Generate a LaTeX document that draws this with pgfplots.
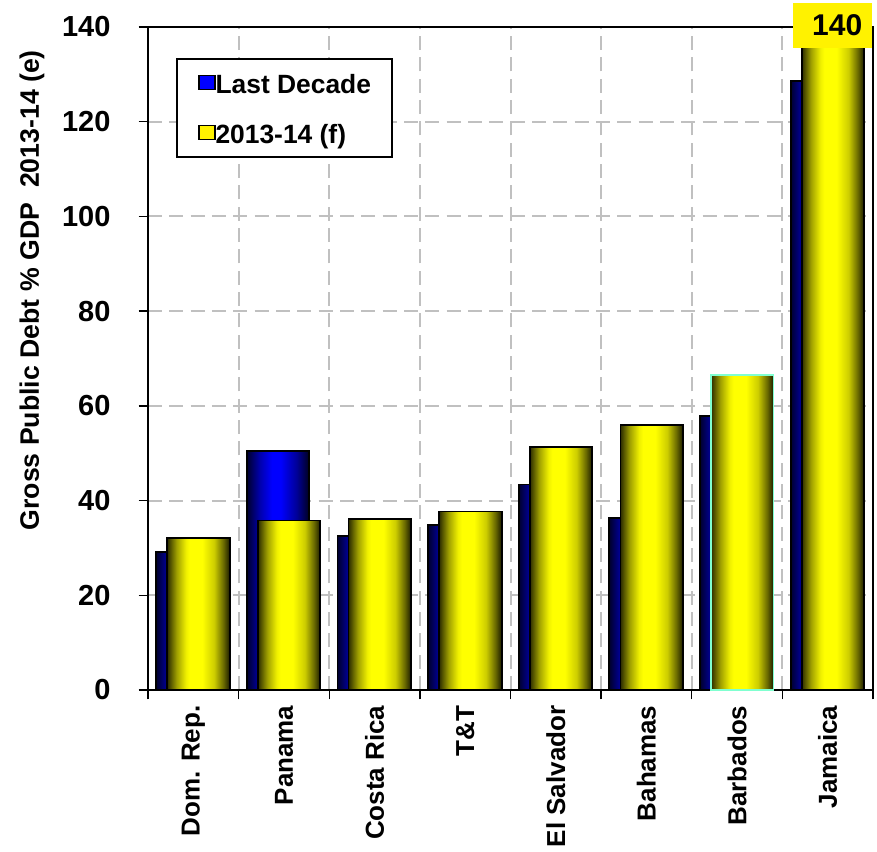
\documentclass[border=0pt]{standalone}
\usepackage{fontspec}
\setmainfont{Liberation Sans}
\usepackage{pgfplots}
\pgfplotsset{compat=1.18}

\definecolor{gridgray}{RGB}{192,192,192}
\definecolor{aqua}{RGB}{128,255,208}

% cylinder-like shading profiles (path is mapped onto 25bp..75bp)
\definecolor{yA}{RGB}{45,45,0}
\definecolor{yB}{RGB}{160,160,0}
\definecolor{yC}{RGB}{240,240,0}
\definecolor{yD}{RGB}{255,255,0}
\definecolor{yE}{RGB}{205,205,0}
\definecolor{yF}{RGB}{105,105,0}
\definecolor{yG}{RGB}{28,28,0}
\pgfdeclarehorizontalshading{ycyl}{100bp}{
  color(0bp)=(yA); color(25bp)=(yA); color(32.5bp)=(yB); color(40bp)=(yC);
  color(43bp)=(yD); color(53bp)=(yD); color(62.5bp)=(yE); color(70bp)=(yF);
  color(75bp)=(yG); color(100bp)=(yG)}
\definecolor{bA}{RGB}{0,0,45}
\definecolor{bB}{RGB}{0,0,170}
\definecolor{bC}{RGB}{0,0,255}
\definecolor{bD}{RGB}{0,0,150}
\definecolor{bE}{RGB}{0,0,30}
\pgfdeclarehorizontalshading{bcyl}{100bp}{
  color(0bp)=(bA); color(25bp)=(bA); color(35bp)=(bB); color(45bp)=(bC);
  color(52bp)=(bC); color(65bp)=(bD); color(75bp)=(bE); color(100bp)=(bE)}

% each bar is its own plot so that it gets its own shading
\pgfplotsset{
  bluebar/.style={ybar, bar width=46.8pt, bar shift=-4.4pt, draw=black, line width=1.4pt,
    shade, shading=bcyl, forget plot},
  yellowbar/.style={ybar, bar width=46.8pt, bar shift=3.9pt, draw=black, line width=1.4pt,
    shade, shading=ycyl, forget plot},
}

\begin{document}
\begin{tikzpicture}
\begin{axis}[
  scale only axis,
  width=543.75pt, height=497.25pt,
  xmin=-0.5, xmax=7.5,
  ymin=0, ymax=140,
  clip=false,
  axis line style={line width=1.8pt},
  /pgf/number format/assume math mode=true,
  xtick={-0.5,0.5,...,7.5},
  xticklabels={},
  extra x ticks={0,1,2,3,4,5,6,7},
  extra x tick labels={Dom. Rep.,Panama,Costa Rica,T\&T,El Salvador,Bahamas,Barbados,Jamaica},
  extra x tick style={major tick length=0pt, grid=none},
  ytick={0,20,...,140},
  xtick pos=bottom, ytick pos=left,
  tick align=outside,
  major tick length=7pt,
  tick style={line width=1.1pt, black},
  xmajorgrids, ymajorgrids,
  major grid style={line width=1.5pt, gridgray, dash pattern=on 10.5pt off 5.5pt},
  xticklabel style={font=\fontsize{19.5}{22}\selectfont\bfseries, rotate=90, anchor=east, inner sep=0pt},
  xticklabel shift=11.5pt,
  yticklabel style={font=\fontsize{21.75}{24}\selectfont\bfseries, anchor=east, inner sep=0pt},
  yticklabel shift=21pt,
  ylabel={Gross Public Debt \% GDP~~2013-14 (e)},
  ylabel style={font=\fontsize{20}{24}\selectfont\bfseries, at={(axis description cs:-0.16,0.603)}, anchor=center, rotate=0},
  legend style={
    at={(rel axis cs:0.0386,0.953)}, anchor=north west,
    draw=black, line width=1.5pt,
    inner xsep=16pt, inner ysep=9pt,
    row sep=19.5pt,
    font=\fontsize{19.8}{22}\selectfont\bfseries,
    nodes={inner sep=0pt, text height=16.5pt, text depth=1.5pt},
    /tikz/every even column/.append style={column sep=8.5pt},
  },
  legend cell align=left,
]

% Last decade average (behind, shifted left)
\addplot[bluebar] coordinates {(0,29.1)};
\addplot[bluebar] coordinates {(1,50.5)};
\addplot[bluebar] coordinates {(2,32.5)};
\addplot[bluebar] coordinates {(3,34.9)};
\addplot[bluebar] coordinates {(4,43.4)};
\addplot[bluebar] coordinates {(5,36.4)};
\addplot[bluebar] coordinates {(6,57.9)};
\addplot[bluebar] coordinates {(7,128.6)};

% 2013-14 forecast (front, shifted right)
\addplot[yellowbar] coordinates {(0,32.1)};
\addplot[yellowbar] coordinates {(1,35.8)};
\addplot[yellowbar] coordinates {(2,36.1)};
\addplot[yellowbar] coordinates {(3,37.7)};
\addplot[yellowbar] coordinates {(4,51.4)};
\addplot[yellowbar] coordinates {(5,55.9)};
\addplot[yellowbar, draw=aqua] coordinates {(6,66.5)};
\addplot[yellowbar] coordinates {(7,140)};

% legend entries
\addlegendimage{legend image code/.code={\draw[draw=black, line width=0.9pt, fill=blue] (0pt,-5pt) rectangle (12pt,6pt);}}
\addlegendentry{Last Decade}
\addlegendimage{legend image code/.code={\draw[draw=black, line width=0.9pt, fill=yellow] (0pt,-5pt) rectangle (12pt,6pt);}}
\addlegendentry{2013-14 (f)}

% value tag on the Jamaica bar
\node[fill=yellow, inner sep=0pt, minimum width=59.25pt, minimum height=33.75pt,
  font=\fontsize{22.5}{24}\selectfont\bfseries, xshift=3.75pt, yshift=1pt]
  at (axis cs:7,140) {\makebox[59.25pt][r]{140\hspace{7.5pt}}};
\end{axis}
\pgfresetboundingbox
\path[use as bounding box] ([shift={(-111pt,-121.5pt)}]current axis.south west)
  rectangle ([shift={(546.75pt,517.5pt)}]current axis.south west);
\end{tikzpicture}
\end{document}
